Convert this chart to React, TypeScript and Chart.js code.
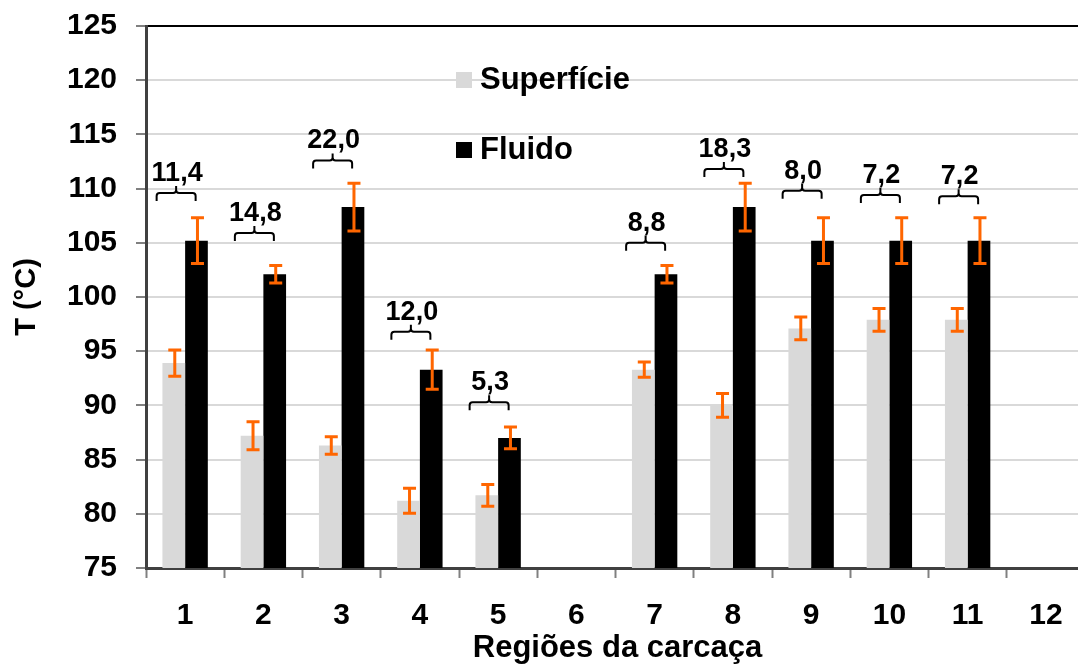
import React, { useEffect, useRef } from "react";
import { Chart, registerables } from "chart.js";

Chart.register(...registerables);

// ---- Data ----
const categories = ["1", "2", "3", "4", "5", "6", "7", "8", "9", "10", "11", "12"];
const superficie = [93.9, 87.2, 86.3, 81.2, 81.7, null, 93.3, 90.0, 97.1, 97.9, 97.9, null];
const superficieErr = [1.2, 1.3, 0.8, 1.15, 1.0, null, 0.7, 1.1, 1.05, 1.05, 1.05, null];
const fluido = [105.2, 102.1, 108.3, 93.3, 87.0, null, 102.1, 108.3, 105.2, 105.2, 105.2, null];
const fluidoErr = [2.1, 0.8, 2.2, 1.8, 1.0, null, 0.8, 2.2, 2.1, 2.1, 2.1, null];
const diffLabels = ["11,4", "14,8", "22,0", "12,0", "5,3", "", "8,8", "18,3", "8,0", "7,2", "7,2", ""];
const bracketLevels = [109.6, 105.9, 112.6, 96.8, 90.3, null, 105.0, 111.8, 109.8, 109.4, 109.3, null];
const seriesNames = ["Superfície", "Fluido"];
const yMin = 75;
const yMax = 125;
const yStep = 5;
const xTitle = "Regiões da carcaça";
const yTitle = "T (°C)";

const FONT = '"Liberation Sans", Arial, Helvetica, sans-serif';
const COLORS = ["#d9d9d9", "#000000"];
const ERR_COLOR = "#ff6600";

const overlayPlugin = {
  id: "overlay",
  afterDatasetsDraw(chart: any) {
    const ctx = chart.ctx as CanvasRenderingContext2D;
    const xs = chart.scales.x;
    const ys = chart.scales.y;
    const area = chart.chartArea;
    const errs = [superficieErr, fluidoErr];

    // error bars
    chart.data.datasets.forEach((ds: any, di: number) => {
      const meta = chart.getDatasetMeta(di);
      meta.data.forEach((el: any, i: number) => {
        const v = ds.data[i];
        const e = errs[di][i];
        if (v == null || e == null) return;
        const cx = el.x + 1;
        const yt = ys.getPixelForValue(v + e);
        const yb = ys.getPixelForValue(v - e);
        ctx.save();
        ctx.strokeStyle = ERR_COLOR;
        ctx.lineWidth = 3;
        ctx.beginPath();
        ctx.moveTo(cx, yt);
        ctx.lineTo(cx, yb);
        ctx.moveTo(cx - 6.5, yt);
        ctx.lineTo(cx + 6.5, yt);
        ctx.moveTo(cx - 6.5, yb);
        ctx.lineTo(cx + 6.5, yb);
        ctx.stroke();
        ctx.restore();
      });
    });

    // brackets + difference labels
    bracketLevels.forEach((lvl, i) => {
      if (lvl == null) return;
      const cx = xs.getPixelForValue(i) - 9;
      const half = 19.5;
      const ly = ys.getPixelForValue(lvl);
      ctx.save();
      ctx.strokeStyle = "#000";
      ctx.lineWidth = 2;
      ctx.beginPath();
      ctx.moveTo(cx - half, ly + 8);
      ctx.lineTo(cx - half, ly + 3);
      ctx.quadraticCurveTo(cx - half, ly, cx - half + 3, ly);
      ctx.lineTo(cx - 3, ly);
      ctx.quadraticCurveTo(cx, ly, cx, ly - 3);
      ctx.lineTo(cx, ly - 7);
      ctx.moveTo(cx, ly - 3);
      ctx.quadraticCurveTo(cx, ly, cx + 3, ly);
      ctx.lineTo(cx + half - 3, ly);
      ctx.quadraticCurveTo(cx + half, ly, cx + half, ly + 3);
      ctx.lineTo(cx + half, ly + 8);
      ctx.stroke();
      ctx.fillStyle = "#000";
      ctx.font = `bold 27px ${FONT}`;
      ctx.textAlign = "center";
      ctx.textBaseline = "alphabetic";
      ctx.fillText(diffLabels[i], cx + 1, ly - 12);
      ctx.restore();
    });

    // legend
    const legendItems = [
      { sq: [456, 72, 16, 16], tx: 480, base: 89 },
      { sq: [456, 142, 16, 16], tx: 480, base: 159 },
    ];
    ctx.save();
    ctx.font = `bold 31px ${FONT}`;
    ctx.textAlign = "left";
    ctx.textBaseline = "alphabetic";
    legendItems.forEach((it, k) => {
      ctx.fillStyle = COLORS[k];
      ctx.fillRect(it.sq[0], it.sq[1], it.sq[2], it.sq[3]);
      ctx.fillStyle = "#000";
      ctx.fillText(seriesNames[k], it.tx, it.base);
    });
    ctx.restore();

    // axis titles
    ctx.save();
    ctx.fillStyle = "#000";
    ctx.font = `bold 31px ${FONT}`;
    ctx.textAlign = "center";
    ctx.textBaseline = "alphabetic";
    ctx.fillText(xTitle, (area.left + area.right) / 2 + 2, 657);
    ctx.font = `bold 29px ${FONT}`;
    ctx.translate(35, (area.top + area.bottom) / 2);
    ctx.rotate(-Math.PI / 2);
    ctx.fillText(yTitle, 0, 0);
    ctx.restore();
  },
};

export default function App() {
  const ref = useRef<HTMLCanvasElement>(null);

  useEffect(() => {
    if (!ref.current) return;
    const chart = new Chart(ref.current, {
      type: "bar",
      data: {
        labels: categories,
        datasets: [
          { label: seriesNames[0], data: superficie as any, backgroundColor: COLORS[0] },
          { label: seriesNames[1], data: fluido as any, backgroundColor: COLORS[1] },
        ],
      },
      options: {
        animation: false,
        responsive: false,
        devicePixelRatio: 1,
        layout: { padding: { top: 26, right: 15, left: 0, bottom: 0 } },
        datasets: { bar: { categoryPercentage: 0.58, barPercentage: 1 } } as any,
        plugins: {
          legend: { display: false },
          tooltip: { enabled: false },
          title: { display: false },
        },
        scales: {
          x: {
            grid: {
              offset: true,
              drawOnChartArea: false,
              tickLength: 10,
              tickColor: "#808080",
              tickWidth: 2,
            } as any,
            border: { color: "#404040", width: 3 },
            ticks: {
              font: { family: FONT, size: 30, weight: "bold" },
              color: "#000",
              padding: 20,
              maxRotation: 0,
              autoSkip: false,
            },
            afterFit: (s: any) => {
              s.height = 97;
              s.paddingLeft = 0;
              s.paddingRight = 0;
            },
          },
          y: {
            min: yMin,
            max: yMax,
            ticks: {
              stepSize: yStep,
              font: { family: FONT, size: 30, weight: "bold" },
              color: "#000",
              padding: 19,
            },
            grid: {
              color: (c: any) => (c.tick && c.tick.value === yMax ? "#000" : "#d9d9d9"),
              lineWidth: 2,
              tickLength: 10,
              tickColor: "#808080",
              tickWidth: 2,
            } as any,
            border: { color: "#404040", width: 3 },
            afterFit: (s: any) => {
              s.width = 146;
              s.paddingTop = 0;
              s.paddingBottom = 0;
            },
          },
        },
      },
      plugins: [overlayPlugin],
    });
    return () => chart.destroy();
  }, []);

  return (
    <div
      style={{
        position: "fixed",
        left: 0,
        top: 0,
        width: 1078,
        height: 665,
        overflow: "hidden",
        background: "#fff",
      }}
    >
      <canvas ref={ref} width={1100} height={665} style={{ display: "block" }} />
    </div>
  );
}
